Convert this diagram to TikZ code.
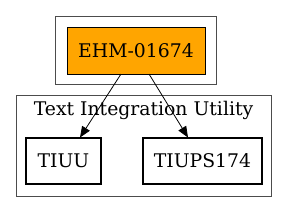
\documentclass[tikz,border=0pt]{standalone}
\usepackage{fontspec}
\setmainfont{DejaVu Serif}
\usetikzlibrary{arrows.meta}
\begin{document}
\begin{tikzpicture}[x=1pt,y=-1pt,
  cluster/.style={draw=black!70,line width=1pt},
  orangebox/.style={draw=black,line width=0.9pt,fill={rgb,255:red,255;green,165;blue,0},minimum width=138pt,minimum height=47pt,inner sep=0pt,font=\fontsize{18.8}{22}\selectfont},
  boldbox/.style={draw=black,line width=2pt,minimum height=46pt,inner sep=0pt,font=\fontsize{18.8}{22}\selectfont},
  edge/.style={draw=black,line width=0.8pt,-{Triangle[length=11pt,width=9pt]}}]
\useasboundingbox (0,0) rectangle (288,212);
\draw[cluster] (55.5,16) rectangle (216,84.5);
\draw[cluster] (16,95.5) rectangle (271,196);
\node[orangebox] (ehm) at (136,50.5) {EHM-01674};
\node[font=\fontsize{18.8}{22}\selectfont] (lbl) at (143.5,110) {Text Integration Utility};
\node[boldbox,minimum width=75pt] (tiuu) at (63.5,160.5) {TIUU};
\node[boldbox,minimum width=119pt] (tiups) at (202.5,160.5) {TIUPS174};
\coordinate (s1) at (121,74);
\coordinate (s2) at (149,74);
\coordinate (e1) at (80,137.5);
\coordinate (e2) at (188,137.5);
\draw[edge] (s1) -- (e1);
\draw[edge] (s2) -- (e2);
\end{tikzpicture}
\end{document}
